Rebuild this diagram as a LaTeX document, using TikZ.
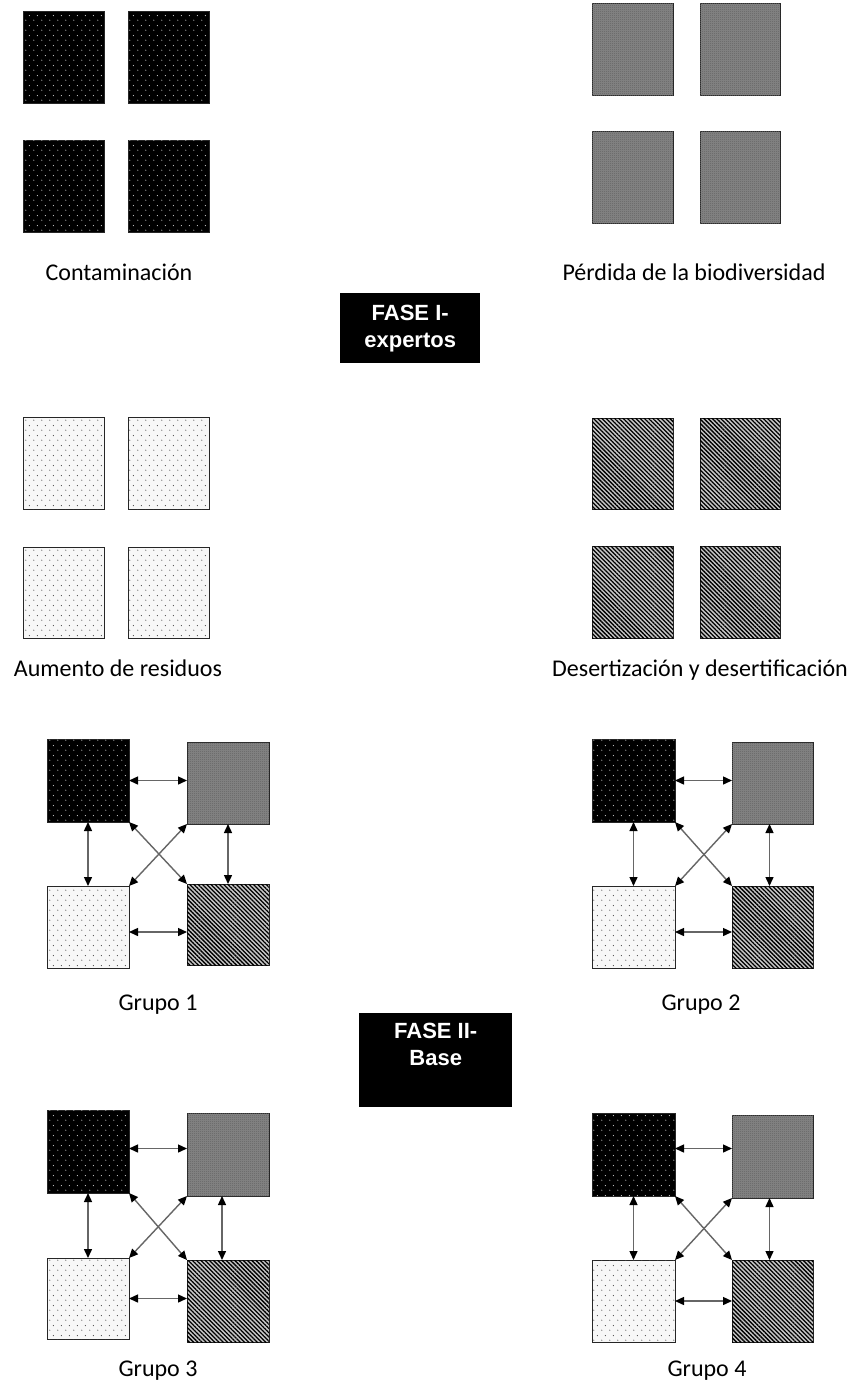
\documentclass[tikz,border=0pt]{standalone}
\usepackage{fontspec}
\setmainfont{Carlito}
\newfontfamily\arialfont{Liberation Sans}
\usetikzlibrary{patterns,patterns.meta,arrows.meta}
\tikzdeclarepattern{
  name=sdots,
  type=uncolored,
  bounding box={(0pt,0pt) and (8pt,10pt)},
  tile size={(8pt,10pt)},
  code={
    \pgfpathcircle{\pgfpoint{2pt}{2pt}}{0.65pt}
    \pgfpathcircle{\pgfpoint{6pt}{7pt}}{0.65pt}
    \pgfusepath{fill}
  }
}
\tikzdeclarepattern{
  name=checker,
  type=uncolored,
  bounding box={(0pt,0pt) and (2pt,2pt)},
  tile size={(2pt,2pt)},
  code={
    \pgfpathrectangle{\pgfpoint{0pt}{0pt}}{\pgfpoint{1pt}{1pt}}
    \pgfpathrectangle{\pgfpoint{1pt}{1pt}}{\pgfpoint{1pt}{1pt}}
    \pgfusepath{fill}
  }
}
\newcommand{\sq}[6]{\node[#1, minimum width={#5-#3}, minimum height={#6-#4}] (#2) at (#3,#4) {};}
\begin{document}
\begin{tikzpicture}[x=1pt,y=-1pt,
  sqbase/.style={draw=black!85, line width=0.9pt, inner sep=0pt, outer sep=0pt, anchor=north west},
  blk/.style={sqbase, fill=black, postaction={pattern=sdots, pattern color=white!60!gray}},
  gry/.style={sqbase, fill=black!48, postaction={pattern=checker, pattern color=black!62}},
  lit/.style={sqbase, fill=black!3, postaction={pattern=sdots, pattern color=black!70}},
  dsr/.style={sqbase, fill=black!22, postaction={pattern={Lines[angle=-45,distance=3pt,line width=1.3pt]}, pattern color=black}},
  arr/.style={{Triangle[length=9pt,width=8pt,color=black]}-{Triangle[length=9pt,width=8pt,color=black]}, draw=black!60, line width=1.4pt},
  lbl/.style={anchor=base, inner sep=0pt, font=\fontsize{24}{28}\selectfont},
  fase/.style={fill=black, text=white, align=center, inner sep=0pt, anchor=north west, font=\arialfont\bfseries\fontsize{22}{27}\selectfont}
]
\useasboundingbox[fill=white] (0,0) rectangle (849,1382);

% ---- Phase I ----
\sq{blk}{ca}{23}{11}{104}{103}
\sq{blk}{cb}{128}{11}{209}{103}
\sq{blk}{cc}{23}{140}{104}{232}
\sq{blk}{cd}{128}{140}{209}{232}
\node[lbl] (lc) at (119,280) {Contaminación};

\sq{gry}{pa}{592}{3}{673}{95}
\sq{gry}{pb}{700}{3}{780}{95}
\sq{gry}{pc}{592}{131}{673}{223}
\sq{gry}{pd}{700}{131}{780}{223}
\node[lbl] (lp) at (694,280) {Pérdida de la biodiversidad};

\node[fase, minimum width=140, minimum height=70] (f1) at (340,293) {FASE I-\\expertos};

\sq{lit}{ra}{23}{417}{104}{509}
\sq{lit}{rb}{128}{417}{209}{509}
\sq{lit}{rc}{23}{547}{104}{638}
\sq{lit}{rd}{128}{547}{209}{638}
\node[lbl] (lr) at (118,676) {Aumento de residuos};

\sq{dsr}{da}{592}{418}{673}{509}
\sq{dsr}{db}{700}{418}{780}{509}
\sq{dsr}{dc}{592}{546}{673}{638}
\sq{dsr}{dd}{700}{546}{780}{638}
\node[lbl] (ld) at (700,676) {Desertización y desertificación};

% ---- Group 1 ----
\sq{blk}{g1a}{47}{739}{129}{822}
\sq{gry}{g1b}{187}{742}{269}{824}
\sq{lit}{g1c}{47}{886}{129}{968}
\sq{dsr}{g1d}{187}{884}{269}{965}
\draw[arr] (g1a.east) -- (g1a.east -| g1b.west);
\draw[arr] (g1a.south) -- (g1a.south |- g1c.north);
\draw[arr] (g1b.south) -- (g1b.south |- g1d.north);
\draw[arr] ([yshift=-5pt]g1c.east) -- ([yshift=-5pt]g1c.east -| g1d.west);
\draw[arr] (g1a.south east) -- (g1d.north west);
\draw[arr] (g1b.south west) -- (g1c.north east);
\node[lbl] (l1) at (158,1010) {Grupo 1};

% ---- Group 2 ----
\sq{blk}{g2a}{592}{739}{675}{822}
\sq{gry}{g2b}{732}{742}{813}{824}
\sq{lit}{g2c}{592}{886}{675}{968}
\sq{dsr}{g2d}{732}{886}{813}{968}
\draw[arr] (g2a.east) -- (g2a.east -| g2b.west);
\draw[arr] (g2a.south) -- (g2a.south |- g2c.north);
\draw[arr] ([xshift=-3pt]g2b.south) -- ([xshift=-3pt]g2b.south |- g2d.north);
\draw[arr] ([yshift=-5pt]g2c.east) -- ([yshift=-5pt]g2c.east -| g2d.west);
\draw[arr] (g2a.south east) -- (g2d.north west);
\draw[arr] (g2b.south west) -- (g2c.north east);
\node[lbl] (l2) at (701,1010) {Grupo 2};

% ---- Phase II ----
\node[fase, minimum width=153, minimum height=94] (f2) at (359,1013) {};
\node[fase, anchor=north, fill=none] (f2t) at ([yshift=-10pt]f2.north) {FASE II-\\Base};

% ---- Group 3 ----
\sq{blk}{g3a}{47}{1110}{129}{1193}
\sq{gry}{g3b}{187}{1113}{269}{1196}
\sq{lit}{g3c}{47}{1258}{129}{1339}
\sq{dsr}{g3d}{187}{1260}{269}{1342}
\draw[arr] ([yshift=3pt]g3a.east) -- ([yshift=3pt]g3a.east -| g3b.west);
\draw[arr] (g3a.south) -- (g3a.south |- g3c.north);
\draw[arr] ([xshift=-6pt]g3b.south) -- ([xshift=-6pt]g3b.south |- g3d.north);
\draw[arr] (g3c.east) -- (g3c.east -| g3d.west);
\draw[arr] (g3a.south east) -- (g3d.north west);
\draw[arr] (g3b.south west) -- (g3c.north east);
\node[lbl] (l3) at (158,1376) {Grupo 3};

% ---- Group 4 ----
\sq{blk}{g4a}{592}{1113}{675}{1196}
\sq{gry}{g4b}{732}{1115}{813}{1198}
\sq{lit}{g4c}{592}{1260}{675}{1342}
\sq{dsr}{g4d}{732}{1260}{813}{1342}
\draw[arr] ([yshift=6pt]g4a.east) -- ([yshift=6pt]g4a.east -| g4b.west);
\draw[arr] (g4a.south) -- (g4a.south |- g4c.north);
\draw[arr] ([xshift=-3pt]g4b.south) -- ([xshift=-3pt]g4b.south |- g4d.north);
\draw[arr] (g4c.east) -- (g4c.east -| g4d.west);
\draw[arr] (g4a.south east) -- (g4d.north west);
\draw[arr] (g4b.south west) -- (g4c.north east);
\node[lbl] (l4) at (707,1376) {Grupo 4};
\end{tikzpicture}
\end{document}
